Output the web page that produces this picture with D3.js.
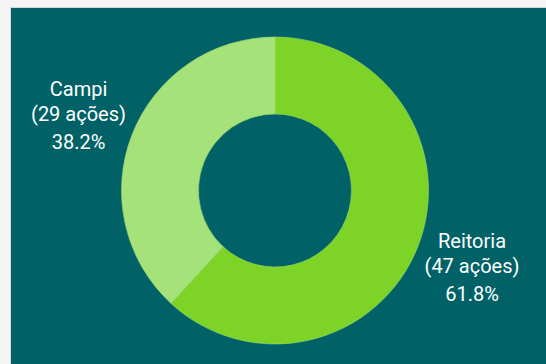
<!DOCTYPE html>
<html>
<head>
<meta charset="utf-8">
<script src="https://cdn.jsdelivr.net/npm/d3@7"></script>
<style>
  html, body { margin: 0; padding: 0; background: #f5f5f5; }
  svg { display: block; }
</style>
</head>
<body>
<svg id="chart" width="546" height="364"></svg>
<script>
// Distribution of actions between the rectory and the campi
const categories = ["Reitoria", "Campi"];
const counts = [47, 29];
const percents = ["61.8%", "38.2%"];
const colors = ["#7ed327", "#a6e27a"];

const W = 546, H = 364;
const svg = d3.select("#chart");

// panel background with thin light border
svg.append("rect").attr("x", 10.5).attr("y", 7.5).attr("width", W).attr("height", H)
  .attr("fill", "#006266").attr("stroke", "#d8d8d8").attr("stroke-width", 1);

const cx = 275, cy = 190.5, rOuter = 153.5, rInner = 76.5;

const data = categories.map((c, i) => ({ name: c, value: counts[i], pct: percents[i], color: colors[i] }));

const pie = d3.pie().value(d => d.value).sort(null);
const arcs = pie(data);
const arc = d3.arc().innerRadius(rInner).outerRadius(rOuter);

const g = svg.append("g").attr("transform", `translate(${cx},${cy})`);
g.selectAll("path").data(arcs).join("path")
  .attr("d", arc)
  .attr("fill", d => d.data.color)
  .attr("stroke", "#9ed66a")
  .attr("stroke-width", 0.6);

// labels placed outside the ring, beside each slice (first-line baselines)
const labelPos = [[472, 248], [78.5, 96]];
const lines = d => [d.data.name, `(${d.data.value} ações)`, d.data.pct];
const dy = [0, 25, 53];

arcs.forEach((a, i) => {
  const t = svg.append("text")
    .attr("text-anchor", "middle")
    .attr("fill", "#ffffff")
    .style("font-family", "Roboto, sans-serif")
    .style("font-size", "20px");
  lines(a).forEach((s, j) => {
    t.append("tspan").attr("x", labelPos[i][0]).attr("y", labelPos[i][1] + dy[j]).text(s);
  });
});
</script>
</body>
</html>
